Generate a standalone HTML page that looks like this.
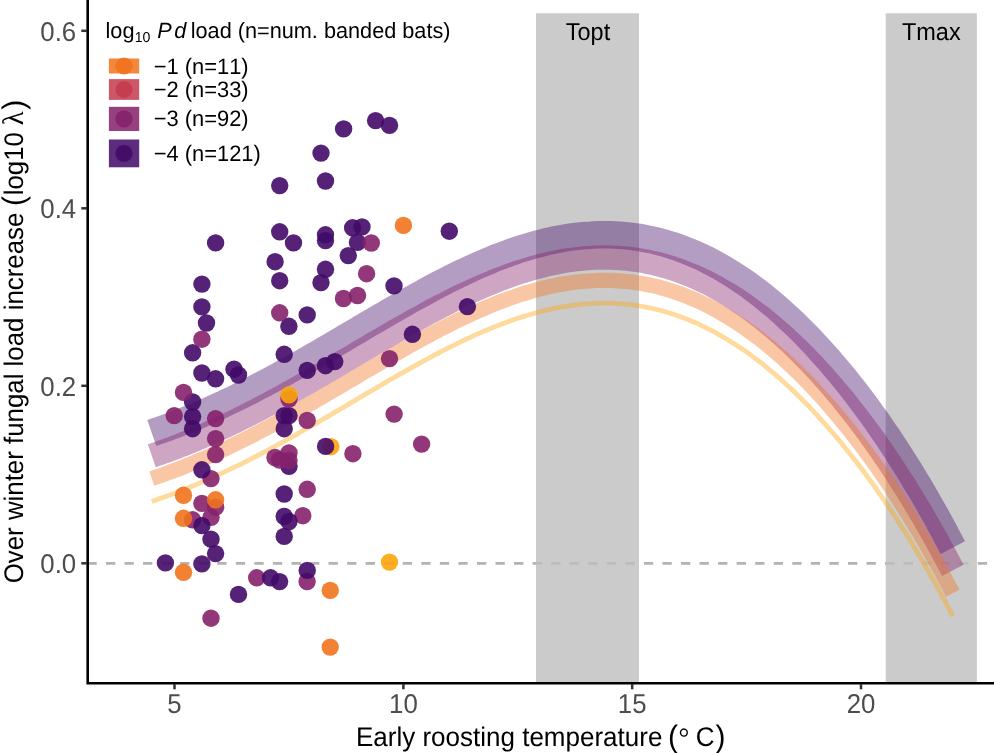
<!DOCTYPE html>
<html><head><meta charset="utf-8"><title>Over winter fungal load increase</title>
<style>html,body{margin:0;padding:0;background:#fff}svg{display:block}text{font-family:"Liberation Sans",sans-serif;font-kerning:none;text-rendering:geometricPrecision}</style></head>
<body>
<svg width="994" height="753" viewBox="0 0 994 753">
<rect width="994" height="753" fill="#fff"/>
<line x1="87.4" y1="563.3" x2="994" y2="563.3" stroke="#B3B3B3" stroke-width="2.7" stroke-dasharray="9.3 9.25"/>
<g fill="#BEBEBE" fill-opacity="0.8">
<rect x="536" y="13.3" width="103" height="670"/>
<rect x="885.7" y="13.3" width="91.2" height="670"/>
</g>
<g fill="none" stroke-opacity="0.4" stroke-linecap="butt" stroke-linejoin="round">
<path d="M151.8,433.0 L155.8,431.6 L159.8,430.2 L163.9,428.8 L167.9,427.3 L171.9,425.8 L175.9,424.3 L180.0,422.7 L184.0,421.2 L188.0,419.5 L192.0,417.9 L196.1,416.2 L200.1,414.5 L204.1,412.8 L208.1,411.0 L212.2,409.2 L216.2,407.4 L220.2,405.5 L224.2,403.7 L228.3,401.7 L232.3,399.8 L236.3,397.9 L240.3,395.9 L244.4,393.9 L248.4,391.9 L252.4,389.8 L256.4,387.7 L260.5,385.6 L264.5,383.5 L268.5,381.4 L272.5,379.2 L276.6,377.0 L280.6,374.8 L284.6,372.6 L288.6,370.4 L292.7,368.2 L296.7,365.9 L300.7,363.6 L304.7,361.3 L308.8,359.0 L312.8,356.7 L316.8,354.4 L320.8,352.1 L324.9,349.7 L328.9,347.4 L332.9,345.0 L336.9,342.7 L341.0,340.3 L345.0,337.9 L349.0,335.5 L353.0,333.2 L357.1,330.8 L361.1,328.4 L365.1,326.0 L369.1,323.7 L373.2,321.3 L377.2,319.0 L381.2,316.6 L385.2,314.3 L389.3,311.9 L393.3,309.6 L397.3,307.3 L401.3,305.0 L405.4,302.7 L409.4,300.4 L413.4,298.2 L417.4,296.0 L421.5,293.8 L425.5,291.6 L429.5,289.4 L433.5,287.2 L437.6,285.1 L441.6,283.0 L445.6,281.0 L449.6,278.9 L453.7,276.9 L457.7,274.9 L461.7,273.0 L465.7,271.1 L469.8,269.2 L473.8,267.3 L477.8,265.5 L481.8,263.8 L485.9,262.0 L489.9,260.4 L493.9,258.7 L497.9,257.1 L502.0,255.6 L506.0,254.1 L510.0,252.6 L514.0,251.2 L518.1,249.8 L522.1,248.5 L526.1,247.3 L530.1,246.1 L534.2,244.9 L538.2,243.8 L542.2,242.8 L546.2,241.8 L550.3,240.9 L554.3,240.0 L558.3,239.2 L562.3,238.5 L566.4,237.8 L570.4,237.2 L574.4,236.7 L578.4,236.2 L582.5,235.8 L586.5,235.4 L590.5,235.2 L594.5,234.9 L598.6,234.8 L602.6,234.7 L606.6,234.7 L610.6,234.8 L614.7,235.0 L618.7,235.2 L622.7,235.5 L626.7,235.9 L630.8,236.3 L634.8,236.8 L638.8,237.4 L642.8,238.1 L646.9,238.9 L650.9,239.7 L654.9,240.6 L658.9,241.6 L663.0,242.7 L667.0,243.9 L671.0,245.1 L675.0,246.4 L679.1,247.8 L683.1,249.3 L687.1,250.9 L691.1,252.5 L695.2,254.2 L699.2,256.0 L703.2,257.9 L707.2,259.9 L711.3,262.0 L715.3,264.1 L719.3,266.4 L723.3,268.7 L727.4,271.1 L731.4,273.6 L735.4,276.1 L739.4,278.8 L743.5,281.5 L747.5,284.3 L751.5,287.3 L755.5,290.3 L759.6,293.3 L763.6,296.5 L767.6,299.8 L771.6,303.1 L775.7,306.5 L779.7,310.0 L783.7,313.6 L787.7,317.3 L791.8,321.1 L795.8,324.9 L799.8,328.9 L803.8,332.9 L807.9,337.0 L811.9,341.2 L815.9,345.5 L819.9,349.9 L824.0,354.4 L828.0,358.9 L832.0,363.6 L836.0,368.3 L840.1,373.1 L844.1,378.0 L848.1,383.0 L852.1,388.1 L856.2,393.3 L860.2,398.6 L864.2,403.9 L868.2,409.4 L872.3,415.0 L876.3,420.6 L880.3,426.4 L884.3,432.2 L888.4,438.1 L892.4,444.2 L896.4,450.3 L900.4,456.6 L904.5,462.9 L908.5,469.3 L912.5,475.9 L916.5,482.6 L920.6,489.3 L924.6,496.2 L928.6,503.2 L932.6,510.3 L936.7,517.5 L940.7,524.9 L944.7,532.3 L948.7,539.9 L952.8,547.6" stroke="#420A68" stroke-width="27.5"/>
<path d="M151.8,455.8 L155.8,454.4 L159.8,453.0 L163.9,451.6 L167.9,450.1 L171.9,448.6 L175.9,447.1 L180.0,445.5 L184.0,444.0 L188.0,442.3 L192.0,440.7 L196.1,439.0 L200.1,437.3 L204.1,435.6 L208.1,433.8 L212.2,432.0 L216.2,430.2 L220.2,428.3 L224.2,426.5 L228.3,424.5 L232.3,422.6 L236.3,420.7 L240.3,418.7 L244.4,416.7 L248.4,414.7 L252.4,412.6 L256.4,410.5 L260.5,408.4 L264.5,406.3 L268.5,404.2 L272.5,402.0 L276.6,399.8 L280.6,397.6 L284.6,395.4 L288.6,393.2 L292.7,391.0 L296.7,388.7 L300.7,386.4 L304.7,384.1 L308.8,381.8 L312.8,379.5 L316.8,377.2 L320.8,374.9 L324.9,372.5 L328.9,370.2 L332.9,367.8 L336.9,365.5 L341.0,363.1 L345.0,360.7 L349.0,358.3 L353.0,356.0 L357.1,353.6 L361.1,351.2 L365.1,348.8 L369.1,346.5 L373.2,344.1 L377.2,341.8 L381.2,339.4 L385.2,337.1 L389.3,334.7 L393.3,332.4 L397.3,330.1 L401.3,327.8 L405.4,325.5 L409.4,323.2 L413.4,321.0 L417.4,318.8 L421.5,316.6 L425.5,314.4 L429.5,312.2 L433.5,310.0 L437.6,307.9 L441.6,305.8 L445.6,303.8 L449.6,301.7 L453.7,299.7 L457.7,297.7 L461.7,295.8 L465.7,293.9 L469.8,292.0 L473.8,290.1 L477.8,288.3 L481.8,286.6 L485.9,284.8 L489.9,283.2 L493.9,281.5 L497.9,279.9 L502.0,278.4 L506.0,276.9 L510.0,275.4 L514.0,274.0 L518.1,272.6 L522.1,271.3 L526.1,270.1 L530.1,268.9 L534.2,267.7 L538.2,266.6 L542.2,265.6 L546.2,264.6 L550.3,263.7 L554.3,262.8 L558.3,262.0 L562.3,261.3 L566.4,260.6 L570.4,260.0 L574.4,259.5 L578.4,259.0 L582.5,258.6 L586.5,258.2 L590.5,258.0 L594.5,257.7 L598.6,257.6 L602.6,257.5 L606.6,257.5 L610.6,257.6 L614.7,257.8 L618.7,258.0 L622.7,258.3 L626.7,258.7 L630.8,259.1 L634.8,259.6 L638.8,260.2 L642.8,260.9 L646.9,261.7 L650.9,262.5 L654.9,263.4 L658.9,264.4 L663.0,265.5 L667.0,266.7 L671.0,267.9 L675.0,269.2 L679.1,270.6 L683.1,272.1 L687.1,273.7 L691.1,275.3 L695.2,277.0 L699.2,278.8 L703.2,280.7 L707.2,282.7 L711.3,284.8 L715.3,286.9 L719.3,289.2 L723.3,291.5 L727.4,293.9 L731.4,296.4 L735.4,298.9 L739.4,301.6 L743.5,304.3 L747.5,307.1 L751.5,310.1 L755.5,313.1 L759.6,316.1 L763.6,319.3 L767.6,322.6 L771.6,325.9 L775.7,329.3 L779.7,332.8 L783.7,336.4 L787.7,340.1 L791.8,343.9 L795.8,347.7 L799.8,351.7 L803.8,355.7 L807.9,359.8 L811.9,364.0 L815.9,368.3 L819.9,372.7 L824.0,377.2 L828.0,381.7 L832.0,386.4 L836.0,391.1 L840.1,395.9 L844.1,400.8 L848.1,405.8 L852.1,410.9 L856.2,416.1 L860.2,421.4 L864.2,426.7 L868.2,432.2 L872.3,437.8 L876.3,443.4 L880.3,449.2 L884.3,455.0 L888.4,460.9 L892.4,467.0 L896.4,473.1 L900.4,479.4 L904.5,485.7 L908.5,492.1 L912.5,498.7 L916.5,505.4 L920.6,512.1 L924.6,519.0 L928.6,526.0 L932.6,533.1 L936.7,540.3 L940.7,547.7 L944.7,555.1 L948.7,562.7 L952.8,570.4" stroke="#85216B" stroke-width="24.3"/>
<path d="M151.8,478.6 L155.8,477.2 L159.8,475.8 L163.9,474.4 L167.9,472.9 L171.9,471.4 L175.9,469.9 L180.0,468.3 L184.0,466.8 L188.0,465.1 L192.0,463.5 L196.1,461.8 L200.1,460.1 L204.1,458.4 L208.1,456.6 L212.2,454.8 L216.2,453.0 L220.2,451.1 L224.2,449.3 L228.3,447.3 L232.3,445.4 L236.3,443.5 L240.3,441.5 L244.4,439.5 L248.4,437.5 L252.4,435.4 L256.4,433.3 L260.5,431.2 L264.5,429.1 L268.5,427.0 L272.5,424.8 L276.6,422.6 L280.6,420.4 L284.6,418.2 L288.6,416.0 L292.7,413.8 L296.7,411.5 L300.7,409.2 L304.7,406.9 L308.8,404.6 L312.8,402.3 L316.8,400.0 L320.8,397.7 L324.9,395.3 L328.9,393.0 L332.9,390.6 L336.9,388.3 L341.0,385.9 L345.0,383.5 L349.0,381.1 L353.0,378.8 L357.1,376.4 L361.1,374.0 L365.1,371.6 L369.1,369.3 L373.2,366.9 L377.2,364.6 L381.2,362.2 L385.2,359.9 L389.3,357.5 L393.3,355.2 L397.3,352.9 L401.3,350.6 L405.4,348.3 L409.4,346.0 L413.4,343.8 L417.4,341.6 L421.5,339.4 L425.5,337.2 L429.5,335.0 L433.5,332.8 L437.6,330.7 L441.6,328.6 L445.6,326.6 L449.6,324.5 L453.7,322.5 L457.7,320.5 L461.7,318.6 L465.7,316.7 L469.8,314.8 L473.8,312.9 L477.8,311.1 L481.8,309.4 L485.9,307.6 L489.9,306.0 L493.9,304.3 L497.9,302.7 L502.0,301.2 L506.0,299.7 L510.0,298.2 L514.0,296.8 L518.1,295.4 L522.1,294.1 L526.1,292.9 L530.1,291.7 L534.2,290.5 L538.2,289.4 L542.2,288.4 L546.2,287.4 L550.3,286.5 L554.3,285.6 L558.3,284.8 L562.3,284.1 L566.4,283.4 L570.4,282.8 L574.4,282.3 L578.4,281.8 L582.5,281.4 L586.5,281.0 L590.5,280.8 L594.5,280.5 L598.6,280.4 L602.6,280.3 L606.6,280.3 L610.6,280.4 L614.7,280.6 L618.7,280.8 L622.7,281.1 L626.7,281.5 L630.8,281.9 L634.8,282.4 L638.8,283.0 L642.8,283.7 L646.9,284.5 L650.9,285.3 L654.9,286.2 L658.9,287.2 L663.0,288.3 L667.0,289.5 L671.0,290.7 L675.0,292.0 L679.1,293.4 L683.1,294.9 L687.1,296.5 L691.1,298.1 L695.2,299.8 L699.2,301.6 L703.2,303.5 L707.2,305.5 L711.3,307.6 L715.3,309.7 L719.3,312.0 L723.3,314.3 L727.4,316.7 L731.4,319.2 L735.4,321.7 L739.4,324.4 L743.5,327.1 L747.5,329.9 L751.5,332.9 L755.5,335.9 L759.6,338.9 L763.6,342.1 L767.6,345.4 L771.6,348.7 L775.7,352.1 L779.7,355.6 L783.7,359.2 L787.7,362.9 L791.8,366.7 L795.8,370.5 L799.8,374.5 L803.8,378.5 L807.9,382.6 L811.9,386.8 L815.9,391.1 L819.9,395.5 L824.0,400.0 L828.0,404.5 L832.0,409.2 L836.0,413.9 L840.1,418.7 L844.1,423.6 L848.1,428.6 L852.1,433.7 L856.2,438.9 L860.2,444.2 L864.2,449.5 L868.2,455.0 L872.3,460.6 L876.3,466.2 L880.3,472.0 L884.3,477.8 L888.4,483.7 L892.4,489.8 L896.4,495.9 L900.4,502.2 L904.5,508.5 L908.5,514.9 L912.5,521.5 L916.5,528.2 L920.6,534.9 L924.6,541.8 L928.6,548.8 L932.6,555.9 L936.7,563.1 L940.7,570.5 L944.7,577.9 L948.7,585.5 L952.8,593.2" stroke="#F1731D" stroke-width="15.2"/>
<path d="M151.8,501.4 L155.8,500.0 L159.8,498.6 L163.9,497.2 L167.9,495.7 L171.9,494.2 L175.9,492.7 L180.0,491.1 L184.0,489.6 L188.0,487.9 L192.0,486.3 L196.1,484.6 L200.1,482.9 L204.1,481.2 L208.1,479.4 L212.2,477.6 L216.2,475.8 L220.2,473.9 L224.2,472.1 L228.3,470.1 L232.3,468.2 L236.3,466.3 L240.3,464.3 L244.4,462.3 L248.4,460.3 L252.4,458.2 L256.4,456.1 L260.5,454.0 L264.5,451.9 L268.5,449.8 L272.5,447.6 L276.6,445.4 L280.6,443.2 L284.6,441.0 L288.6,438.8 L292.7,436.6 L296.7,434.3 L300.7,432.0 L304.7,429.7 L308.8,427.4 L312.8,425.1 L316.8,422.8 L320.8,420.5 L324.9,418.1 L328.9,415.8 L332.9,413.4 L336.9,411.1 L341.0,408.7 L345.0,406.3 L349.0,403.9 L353.0,401.6 L357.1,399.2 L361.1,396.8 L365.1,394.4 L369.1,392.1 L373.2,389.7 L377.2,387.4 L381.2,385.0 L385.2,382.7 L389.3,380.3 L393.3,378.0 L397.3,375.7 L401.3,373.4 L405.4,371.1 L409.4,368.8 L413.4,366.6 L417.4,364.4 L421.5,362.2 L425.5,360.0 L429.5,357.8 L433.5,355.6 L437.6,353.5 L441.6,351.4 L445.6,349.4 L449.6,347.3 L453.7,345.3 L457.7,343.3 L461.7,341.4 L465.7,339.5 L469.8,337.6 L473.8,335.7 L477.8,333.9 L481.8,332.2 L485.9,330.4 L489.9,328.8 L493.9,327.1 L497.9,325.5 L502.0,324.0 L506.0,322.5 L510.0,321.0 L514.0,319.6 L518.1,318.2 L522.1,316.9 L526.1,315.7 L530.1,314.5 L534.2,313.3 L538.2,312.2 L542.2,311.2 L546.2,310.2 L550.3,309.3 L554.3,308.4 L558.3,307.6 L562.3,306.9 L566.4,306.2 L570.4,305.6 L574.4,305.1 L578.4,304.6 L582.5,304.2 L586.5,303.8 L590.5,303.6 L594.5,303.3 L598.6,303.2 L602.6,303.1 L606.6,303.1 L610.6,303.2 L614.7,303.4 L618.7,303.6 L622.7,303.9 L626.7,304.3 L630.8,304.7 L634.8,305.2 L638.8,305.8 L642.8,306.5 L646.9,307.3 L650.9,308.1 L654.9,309.0 L658.9,310.0 L663.0,311.1 L667.0,312.3 L671.0,313.5 L675.0,314.8 L679.1,316.2 L683.1,317.7 L687.1,319.3 L691.1,320.9 L695.2,322.6 L699.2,324.4 L703.2,326.3 L707.2,328.3 L711.3,330.4 L715.3,332.5 L719.3,334.8 L723.3,337.1 L727.4,339.5 L731.4,342.0 L735.4,344.5 L739.4,347.2 L743.5,349.9 L747.5,352.7 L751.5,355.7 L755.5,358.7 L759.6,361.7 L763.6,364.9 L767.6,368.2 L771.6,371.5 L775.7,374.9 L779.7,378.4 L783.7,382.0 L787.7,385.7 L791.8,389.5 L795.8,393.3 L799.8,397.3 L803.8,401.3 L807.9,405.4 L811.9,409.6 L815.9,413.9 L819.9,418.3 L824.0,422.8 L828.0,427.3 L832.0,432.0 L836.0,436.7 L840.1,441.5 L844.1,446.4 L848.1,451.4 L852.1,456.5 L856.2,461.7 L860.2,467.0 L864.2,472.3 L868.2,477.8 L872.3,483.4 L876.3,489.0 L880.3,494.8 L884.3,500.6 L888.4,506.5 L892.4,512.6 L896.4,518.7 L900.4,525.0 L904.5,531.3 L908.5,537.7 L912.5,544.3 L916.5,551.0 L920.6,557.7 L924.6,564.6 L928.6,571.6 L932.6,578.7 L936.7,585.9 L940.7,593.3 L944.7,600.7 L948.7,608.3 L952.8,616.0" stroke="#FCA50A" stroke-width="4.8"/>
</g>
<g fill-opacity="0.9">
<circle cx="343.6" cy="128.9" r="8.7" fill="#420A68"/>
<circle cx="375.6" cy="120.6" r="8.7" fill="#420A68"/>
<circle cx="389.5" cy="125.4" r="8.7" fill="#420A68"/>
<circle cx="321.0" cy="153.1" r="8.7" fill="#420A68"/>
<circle cx="325.5" cy="181.0" r="8.7" fill="#420A68"/>
<circle cx="279.7" cy="185.6" r="8.7" fill="#420A68"/>
<circle cx="215.6" cy="242.9" r="8.7" fill="#420A68"/>
<circle cx="279.7" cy="231.8" r="8.7" fill="#420A68"/>
<circle cx="293.5" cy="242.9" r="8.7" fill="#420A68"/>
<circle cx="325.5" cy="234.8" r="8.7" fill="#420A68"/>
<circle cx="325.5" cy="240.6" r="8.7" fill="#420A68"/>
<circle cx="352.6" cy="227.8" r="8.7" fill="#420A68"/>
<circle cx="362.0" cy="226.9" r="8.7" fill="#420A68"/>
<circle cx="357.5" cy="242.4" r="8.7" fill="#420A68"/>
<circle cx="449.3" cy="231.2" r="8.7" fill="#420A68"/>
<circle cx="348.3" cy="255.6" r="8.7" fill="#420A68"/>
<circle cx="275.1" cy="261.7" r="8.7" fill="#420A68"/>
<circle cx="325.5" cy="269.3" r="8.7" fill="#420A68"/>
<circle cx="279.7" cy="280.7" r="8.7" fill="#420A68"/>
<circle cx="321.0" cy="282.6" r="8.7" fill="#420A68"/>
<circle cx="394.0" cy="285.9" r="8.7" fill="#420A68"/>
<circle cx="201.9" cy="284.1" r="8.7" fill="#420A68"/>
<circle cx="201.9" cy="306.9" r="8.7" fill="#420A68"/>
<circle cx="206.5" cy="323.0" r="8.7" fill="#420A68"/>
<circle cx="192.6" cy="352.8" r="8.7" fill="#420A68"/>
<circle cx="307.2" cy="314.9" r="8.7" fill="#420A68"/>
<circle cx="288.9" cy="326.3" r="8.7" fill="#420A68"/>
<circle cx="467.4" cy="306.6" r="8.7" fill="#420A68"/>
<circle cx="412.4" cy="334.3" r="8.7" fill="#420A68"/>
<circle cx="284.2" cy="354.3" r="8.7" fill="#420A68"/>
<circle cx="307.2" cy="370.4" r="8.7" fill="#420A68"/>
<circle cx="325.5" cy="365.7" r="8.7" fill="#420A68"/>
<circle cx="334.8" cy="361.6" r="8.7" fill="#420A68"/>
<circle cx="201.9" cy="373.0" r="8.7" fill="#420A68"/>
<circle cx="215.6" cy="378.8" r="8.7" fill="#420A68"/>
<circle cx="234.0" cy="369.2" r="8.7" fill="#420A68"/>
<circle cx="238.5" cy="375.0" r="8.7" fill="#420A68"/>
<circle cx="192.6" cy="402.0" r="8.7" fill="#420A68"/>
<circle cx="192.6" cy="416.6" r="8.7" fill="#420A68"/>
<circle cx="192.6" cy="428.7" r="8.7" fill="#420A68"/>
<circle cx="284.2" cy="415.6" r="8.7" fill="#420A68"/>
<circle cx="289.0" cy="415.6" r="8.7" fill="#420A68"/>
<circle cx="284.2" cy="428.7" r="8.7" fill="#420A68"/>
<circle cx="289.0" cy="466.3" r="8.7" fill="#420A68"/>
<circle cx="284.2" cy="494.0" r="8.7" fill="#420A68"/>
<circle cx="284.2" cy="516.5" r="8.7" fill="#420A68"/>
<circle cx="284.2" cy="536.4" r="8.7" fill="#420A68"/>
<circle cx="211.0" cy="539.2" r="8.7" fill="#420A68"/>
<circle cx="215.6" cy="553.6" r="8.7" fill="#420A68"/>
<circle cx="165.4" cy="562.9" r="8.7" fill="#420A68"/>
<circle cx="201.9" cy="563.9" r="8.7" fill="#420A68"/>
<circle cx="238.5" cy="594.4" r="8.7" fill="#420A68"/>
<circle cx="279.6" cy="581.6" r="8.7" fill="#420A68"/>
<circle cx="330.8" cy="446.7" r="8.7" fill="#FCA50A"/>
<circle cx="325.6" cy="446.4" r="8.7" fill="#420A68"/>
<circle cx="371.3" cy="243.0" r="8.7" fill="#85216B"/>
<circle cx="366.6" cy="273.7" r="8.7" fill="#85216B"/>
<circle cx="343.5" cy="298.5" r="8.7" fill="#85216B"/>
<circle cx="357.5" cy="295.5" r="8.7" fill="#85216B"/>
<circle cx="279.7" cy="312.8" r="8.7" fill="#85216B"/>
<circle cx="389.5" cy="358.6" r="8.7" fill="#85216B"/>
<circle cx="201.9" cy="339.2" r="8.7" fill="#85216B"/>
<circle cx="183.5" cy="392.4" r="8.7" fill="#85216B"/>
<circle cx="174.2" cy="415.6" r="8.7" fill="#85216B"/>
<circle cx="215.6" cy="418.6" r="8.7" fill="#85216B"/>
<circle cx="215.6" cy="438.6" r="8.7" fill="#85216B"/>
<circle cx="215.6" cy="454.6" r="8.7" fill="#85216B"/>
<circle cx="289.0" cy="399.0" r="8.7" fill="#85216B"/>
<circle cx="307.2" cy="420.4" r="8.7" fill="#85216B"/>
<circle cx="352.9" cy="453.7" r="8.7" fill="#85216B"/>
<circle cx="394.1" cy="414.1" r="8.7" fill="#85216B"/>
<circle cx="421.6" cy="444.1" r="8.7" fill="#85216B"/>
<circle cx="275.0" cy="457.5" r="8.7" fill="#85216B"/>
<circle cx="279.6" cy="460.0" r="8.7" fill="#85216B"/>
<circle cx="289.0" cy="452.9" r="8.7" fill="#85216B"/>
<circle cx="289.0" cy="460.5" r="8.7" fill="#85216B"/>
<circle cx="211.0" cy="478.6" r="8.7" fill="#85216B"/>
<circle cx="201.9" cy="503.4" r="8.7" fill="#85216B"/>
<circle cx="215.6" cy="507.2" r="8.7" fill="#85216B"/>
<circle cx="211.0" cy="517.3" r="8.7" fill="#85216B"/>
<circle cx="192.6" cy="519.8" r="8.7" fill="#85216B"/>
<circle cx="307.2" cy="489.3" r="8.7" fill="#85216B"/>
<circle cx="302.8" cy="515.7" r="8.7" fill="#85216B"/>
<circle cx="307.1" cy="581.5" r="8.7" fill="#85216B"/>
<circle cx="256.7" cy="577.8" r="8.7" fill="#85216B"/>
<circle cx="211.0" cy="618.2" r="8.7" fill="#85216B"/>
<circle cx="307.2" cy="570.4" r="8.7" fill="#420A68"/>
<circle cx="289.0" cy="521.5" r="8.7" fill="#420A68"/>
<circle cx="270.6" cy="577.8" r="8.7" fill="#420A68"/>
<circle cx="201.9" cy="469.8" r="8.7" fill="#420A68"/>
<circle cx="201.9" cy="525.6" r="8.7" fill="#420A68"/>
<circle cx="403.4" cy="225.4" r="8.7" fill="#F1731D"/>
<circle cx="183.5" cy="495.3" r="8.7" fill="#F1731D"/>
<circle cx="215.6" cy="499.8" r="8.7" fill="#F1731D"/>
<circle cx="183.5" cy="518.3" r="8.7" fill="#F1731D"/>
<circle cx="183.5" cy="572.3" r="8.7" fill="#F1731D"/>
<circle cx="330.2" cy="590.4" r="8.7" fill="#F1731D"/>
<circle cx="330.2" cy="647.1" r="8.7" fill="#F1731D"/>
<circle cx="289.0" cy="394.9" r="8.7" fill="#FCA50A"/>
<circle cx="389.5" cy="562.1" r="8.7" fill="#FCA50A"/>
</g>
<text transform="translate(588,39.6) scale(1,1.04)" font-size="23.5" fill="#000" text-anchor="middle" style="font-kerning:normal">Topt</text>
<text transform="translate(931.3,39.6) scale(1,1.04)" font-size="23.5" fill="#000" text-anchor="middle" style="font-kerning:normal">Tmax</text>
<g stroke="#000" stroke-width="2.6" fill="none">
<path d="M87.7,0 V683.3 H994" stroke-linecap="butt" stroke-linejoin="miter"/>
</g>
<g stroke="#333" stroke-width="2.5">
<line x1="174.5" y1="684" x2="174.5" y2="689.3"/>
<line x1="403.4" y1="684" x2="403.4" y2="689.3"/>
<line x1="632.2" y1="684" x2="632.2" y2="689.3"/>
<line x1="861" y1="684" x2="861" y2="689.3"/>
<line x1="81.3" y1="30.8" x2="87" y2="30.8"/>
<line x1="81.3" y1="208.3" x2="87" y2="208.3"/>
<line x1="81.3" y1="385.8" x2="87" y2="385.8"/>
<line x1="81.3" y1="563.3" x2="87" y2="563.3"/>
</g>
<text transform="translate(174.5,712.9) scale(1,1.055)" font-size="25.8" fill="#4D4D4D" text-anchor="middle">5</text>
<text transform="translate(403.4,712.9) scale(1,1.055)" font-size="25.8" fill="#4D4D4D" text-anchor="middle">10</text>
<text transform="translate(632.2,712.9) scale(1,1.055)" font-size="25.8" fill="#4D4D4D" text-anchor="middle">15</text>
<text transform="translate(861,712.9) scale(1,1.055)" font-size="25.8" fill="#4D4D4D" text-anchor="middle">20</text>
<text transform="translate(76.2,40.8) scale(1,1.055)" font-size="25.8" fill="#4D4D4D" text-anchor="end">0.6</text>
<text transform="translate(76.2,218.3) scale(1,1.055)" font-size="25.8" fill="#4D4D4D" text-anchor="end">0.4</text>
<text transform="translate(76.2,395.8) scale(1,1.055)" font-size="25.8" fill="#4D4D4D" text-anchor="end">0.2</text>
<text transform="translate(76.2,573.3) scale(1,1.055)" font-size="25.8" fill="#4D4D4D" text-anchor="end">0.0</text>
<text transform="translate(0,746.4) scale(1,1.04)" font-size="26" fill="#000"><tspan x="356" y="0">Early roosting temperature </tspan><tspan x="668.1" y="0.7" font-size="30">(</tspan><tspan x="678.6" y="1" font-size="27" font-family="Liberation Serif, serif">°</tspan><tspan x="689" y="0"> </tspan><tspan x="695.7" y="0">C</tspan><tspan x="715.6" y="0.7" font-size="30">)</tspan></text>
<text transform="translate(23.3,583.3) rotate(-90) scale(1,1.04)" font-size="25.85" fill="#000"><tspan x="0" y="0">Over winter fungal load increase </tspan><tspan x="377.3" y="0.3" font-size="30">(</tspan><tspan x="388" y="0">log10 </tspan><tspan x="458" y="0" font-family="Liberation Serif, serif" font-size="28.5">λ</tspan><tspan x="473.6" y="0.3" font-size="30">)</tspan></text>
<text transform="translate(0,37.6) scale(1,1.02)" font-size="21.7" fill="#000"><tspan x="105.5" y="0">log</tspan><tspan x="134.7" font-size="14.1" y="4">10</tspan><tspan x="157.3" y="0" font-style="italic">P</tspan><tspan x="174.3" y="0" font-style="italic">d</tspan><tspan x="187" y="0"> </tspan><tspan x="190.7" y="0">load (n=num. banded bats)</tspan></text>
<rect x="108.9" y="58.5" width="30.3" height="15" fill="#F1731D" fill-opacity="0.86"/>
<circle cx="124" cy="66.0" r="8.6" fill="#F1731D" fill-opacity="0.9"/>
<text transform="translate(153.7,74.0) scale(1,1.02)" font-size="21.9" fill="#000" text-anchor="start">−1 (n=11)</text>
<rect x="108.9" y="79.1" width="30.3" height="20.8" fill="#C43C4E" fill-opacity="0.86"/>
<circle cx="124" cy="89.5" r="8.6" fill="#C43C4E" fill-opacity="0.9"/>
<text transform="translate(153.7,96.6) scale(1,1.02)" font-size="21.9" fill="#000" text-anchor="start">−2 (n=33)</text>
<rect x="108.9" y="106.8" width="30.3" height="24.2" fill="#85216B" fill-opacity="0.86"/>
<circle cx="124" cy="118.9" r="8.6" fill="#85216B" fill-opacity="0.9"/>
<text transform="translate(153.7,125.9) scale(1,1.02)" font-size="21.9" fill="#000" text-anchor="start">−3 (n=92)</text>
<rect x="108.9" y="139.5" width="30.3" height="27.8" fill="#420A68" fill-opacity="0.86"/>
<circle cx="124" cy="153.4" r="8.6" fill="#420A68" fill-opacity="0.9"/>
<text transform="translate(153.7,160.5) scale(1,1.02)" font-size="21.9" fill="#000" text-anchor="start">−4 (n=121)</text>
</svg>
</body></html>
